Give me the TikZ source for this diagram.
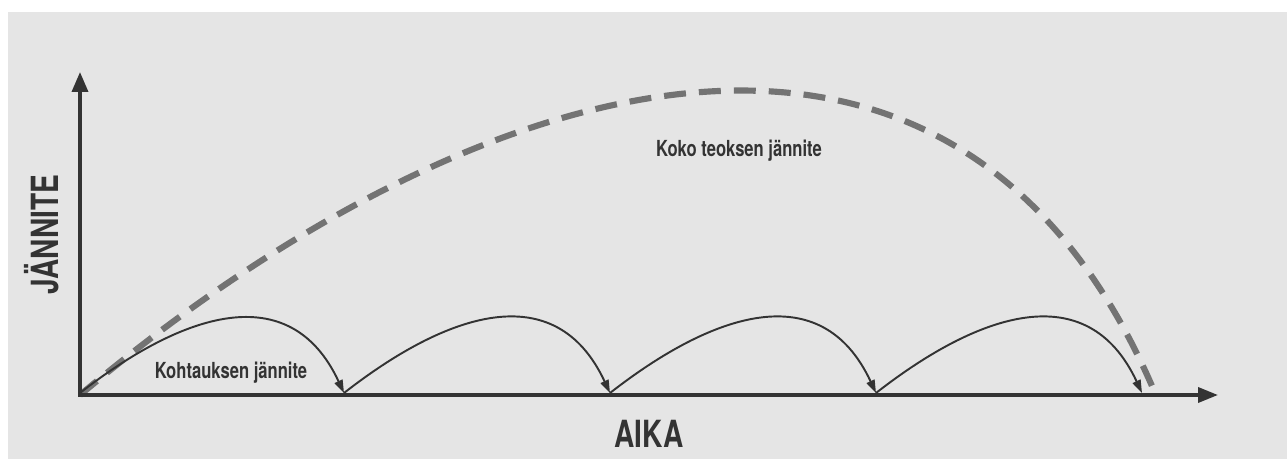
\documentclass[tikz,border=0pt]{standalone}
\usepackage{fontspec}
\usepackage{tikz}
\usepackage{xcolor}
\usetikzlibrary{arrows.meta}

\newfontfamily\labelfont[FakeStretch=0.75,Extension=.otf,UprightFont=*-bold]{texgyreheros}
\definecolor{panelgray}{HTML}{E5E5E5}
\definecolor{axisdark}{HTML}{333333}
\definecolor{dashgray}{HTML}{737373}

\begin{document}
\begin{tikzpicture}[x=0.02cm,y=-0.02cm,
    axis/.style={line width=2pt,axisdark,line join=miter,
      {Triangle[length=0.4cm,width=0.32cm]}-{Triangle[length=0.4cm,width=0.3cm]}},
    scenearc/.style={line width=1.1pt,axisdark,-{Triangle[length=0.26cm,width=0.17cm]}},
    wholearc/.style={line width=3.5pt,dashgray,dash pattern=on 12.5pt off 7.4pt},
    biglabel/.style={axisdark,font=\labelfont\fontsize{21.3}{24}\selectfont},
    smalllabel/.style={axisdark,font=\labelfont\fontsize{12.6}{15}\selectfont}]
    \useasboundingbox (0,0) rectangle (1287,459);
    \fill[panelgray] (8,12) rectangle (1287,459);

    \coordinate (o) at (80,395);
    \coordinate (ytip) at (80,72);
    \coordinate (xtip) at (1218,395);
    \coordinate (wend) at (1155,393);

    % Koko teoksen jannite
    \draw[wholearc] (o) to[out=40,in=113,looseness=1.22] (wend);

    % Kohtausten jannitteet
    \foreach \i/\x in {0/80,1/344,2/610,3/876,4/1142}
      \coordinate (s\i) at (\x,393);
    \foreach \a/\b in {s0/s1,s1/s2,s2/s3,s3/s4}
      \draw[scenearc] (\a) to[out=38,in=115,looseness=1.25] (\b);

    % Axes
    \draw[axis] (ytip) -- (o) -- (xtip);
    \node[biglabel,anchor=base] (xlabel) at (649,447) {AIKA};
    \node[biglabel,rotate=90,anchor=base] (ylabel) at (58,234.5) {JÄNNITE};

    \node[smalllabel,anchor=base] (scenelabel) at (231,378) {Kohtauksen jännite};
    \node[smalllabel,anchor=base] (wholelabel) at (739,157) {Koko teoksen jännite};
\end{tikzpicture}
\end{document}
